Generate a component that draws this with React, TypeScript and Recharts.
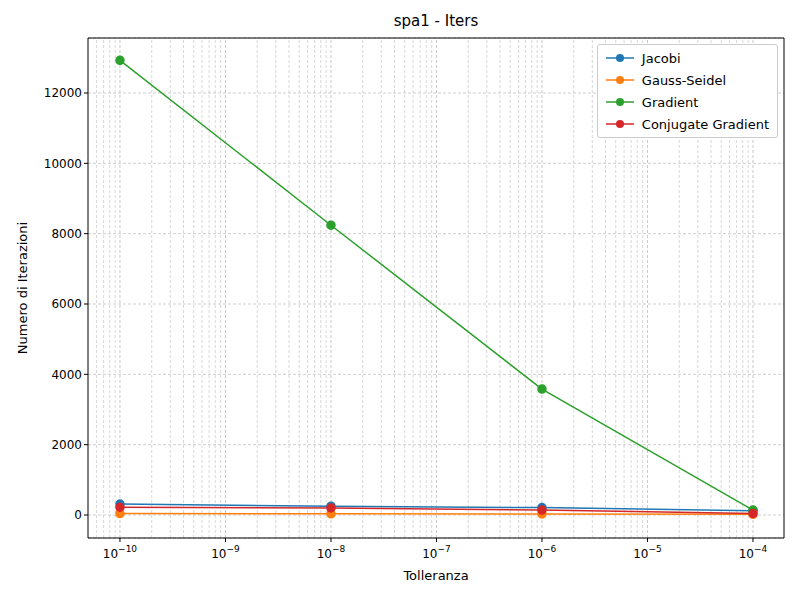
import { LineChart, Line, XAxis, YAxis, CartesianGrid, ReferenceLine } from 'recharts';

const tolerances = [1e-10, 1e-8, 1e-6, 1e-4];
const jacobi = [310, 250, 210, 120];
const gaussSeidel = [40, 35, 30, 20];
const gradient = [12930, 8240, 3580, 140];
const conjugate = [220, 200, 140, 45];
const xTicks = [1e-10, 1e-9, 1e-8, 1e-7, 1e-6, 1e-5, 1e-4];
const yTicks = [0, 2000, 4000, 6000, 8000, 10000, 12000];

const minorLines: number[] = [];
for (let e = -11; e <= -4; e++) {
  for (let m = 2; m <= 9; m++) {
    const v = m * Math.pow(10, e);
    if (v > 5e-11 && v < 2e-4) minorLines.push(v);
  }
}

const data = tolerances.map((t, i) => ({
  t,
  jacobi: jacobi[i],
  gauss: gaussSeidel[i],
  gradient: gradient[i],
  cg: conjugate[i],
}));

const series = [
  { key: 'jacobi', name: 'Jacobi', color: '#1f77b4' },
  { key: 'gauss', name: 'Gauss-Seidel', color: '#ff7f0e' },
  { key: 'gradient', name: 'Gradient', color: '#2ca02c' },
  { key: 'cg', name: 'Conjugate Gradient', color: '#d62728' },
];

const font = 'DejaVu Sans';

function PowTick(props: any) {
  const { x, y, payload } = props;
  const exp = Math.round(Math.log10(payload.value));
  return (
    <text x={x} y={y + 14} textAnchor="middle" fontSize={12} fontFamily={font} fill="#000">
      10<tspan dy={-6} fontSize={9}>{'\u2212' + Math.abs(exp)}</tspan>
    </text>
  );
}

function LegendBox() {
  return (
    <div style={{ position: 'absolute', top: 44, right: 22, background: '#fff', border: '1px solid #ccc', borderRadius: 3, padding: '2px 8px', fontFamily: font, fontSize: 13 }}>
      {series.map((s) => (
        <div key={s.key} style={{ display: 'flex', alignItems: 'center', height: 22 }}>
          <svg width={28} height={12} style={{ marginRight: 8 }}>
            <line x1={0} y1={6} x2={28} y2={6} stroke={s.color} strokeWidth={1.5} />
            <circle cx={14} cy={6} r={4} fill={s.color} />
          </svg>
          {s.name}
        </div>
      ))}
    </div>
  );
}

export default function App() {
  return (
    <div style={{ position: 'relative', width: 800, height: 600, margin: -8, background: '#fff' }}>
      <LineChart width={800} height={600} data={data} margin={{ top: 38, right: 16, bottom: 32, left: 18 }}>
        <CartesianGrid vertical={false} stroke="#b0b0b0" strokeDasharray="3 2" strokeWidth={0.6} />
        {minorLines.map((v) => (
          <ReferenceLine key={v} x={v} stroke="#b0b0b0" strokeDasharray="3 2" strokeWidth={0.5} />
        ))}
        {xTicks.map((v) => (
          <ReferenceLine key={'M' + v} x={v} stroke="#b0b0b0" strokeDasharray="3 2" strokeWidth={0.7} />
        ))}
        <XAxis dataKey="t" type="number" scale="log" domain={[Math.pow(10, -10.303), Math.pow(10, -3.706)]} ticks={xTicks}
          allowDataOverflow tick={<PowTick />} height={30} stroke="#000" tickSize={4} />
        <YAxis type="number" domain={[-654, 13564]} ticks={yTicks} allowDataOverflow width={70} stroke="#000"
          tick={{ fill: '#000', fontSize: 12, fontFamily: font }} tickSize={4} />
        <line x1={784} y1={38} x2={784} y2={538} stroke="#000" />
        <line x1={88} y1={38} x2={784} y2={38} stroke="#000" />
        {series.map((s) => (
          <Line key={s.key} dataKey={s.key} name={s.name} stroke={s.color} strokeWidth={1.5} type="linear"
            dot={{ r: 4, fill: s.color, stroke: s.color }} isAnimationActive={false} />
        ))}
      </LineChart>
      <div style={{ position: 'absolute', top: 12, width: 800, left: 36, textAlign: 'center', fontFamily: font, fontSize: 15 }}>spa1 - Iters</div>
      <div style={{ position: 'absolute', top: 568, left: 88, width: 696, textAlign: 'center', fontFamily: font, fontSize: 13 }}>Tolleranza</div>
      <div style={{ position: 'absolute', left: 22, top: 288, transform: 'translate(-50%,-50%) rotate(-90deg)', fontFamily: font, fontSize: 13, whiteSpace: 'nowrap' }}>Numero di Iterazioni</div>
      <LegendBox />
    </div>
  );
}
